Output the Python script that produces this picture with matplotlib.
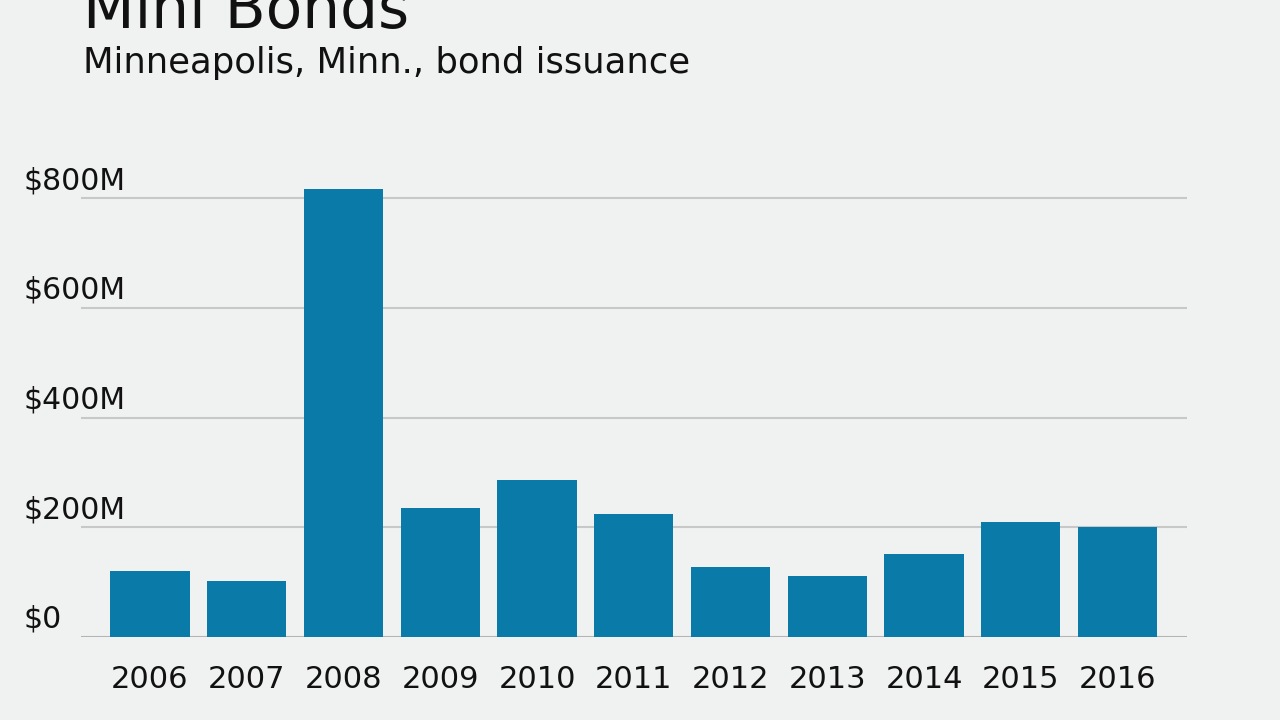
import matplotlib.pyplot as plt
from matplotlib import transforms

years = ['2006', '2007', '2008', '2009', '2010', '2011', '2012', '2013', '2014', '2015', '2016']
issuance = [120, 102, 816, 235, 286, 224, 128, 111, 151, 210, 200]  # $M
yticks = [0, 200, 400, 600, 800]
ytick_labels = ['$0', '$200M', '$400M', '$600M', '$800M']

bg = '#f0f1f1'
bar_color = '#0a7aa8'

fig = plt.figure(figsize=(12.8, 7.2), dpi=100, facecolor=bg)
# axes placed so that 0 sits at y=637px and 800 at y=198px
px_per_unit = 439 / 800
ymax = 850
ax = fig.add_axes([81 / 1280, 83 / 720, (1187 - 81) / 1280, ymax * px_per_unit / 720])
ax.set_facecolor(bg)

x = range(len(years))
ax.bar(x, issuance, width=0.82, color=bar_color, zorder=3)
ax.set_xlim(-0.713, 10.718)
ax.set_ylim(0, ymax)

for v in yticks:
    ax.axhline(v, color='#c8c8c8' if v else '#b4b4b4', lw=1.5, zorder=1)

for s in ax.spines.values():
    s.set_visible(False)
ax.set_yticks([])
ax.set_xticks(list(x))
ax.set_xticklabels(years, fontsize=22, color='#111111')
ax.tick_params(axis='x', length=0, pad=20)

trans = transforms.blended_transform_factory(fig.transFigure, ax.transData)
trans = trans + transforms.ScaledTranslation(0, 9 / 100, fig.dpi_scale_trans)
for v, lab in zip(yticks, ytick_labels):
    ax.text(24 / 1280, v, lab, transform=trans, fontsize=21.5, color='#111111',
            ha='left', va='baseline')

fig.text(83 / 1280, 1 - 28 / 720, 'Mini Bonds', fontsize=43, color='#111111',
         ha='left', va='baseline')
fig.text(83 / 1280, 1 - 73 / 720, 'Minneapolis, Minn., bond issuance', fontsize=25.5,
         color='#111111', ha='left', va='baseline')

fig.savefig('out.png', dpi=100, facecolor=bg)
